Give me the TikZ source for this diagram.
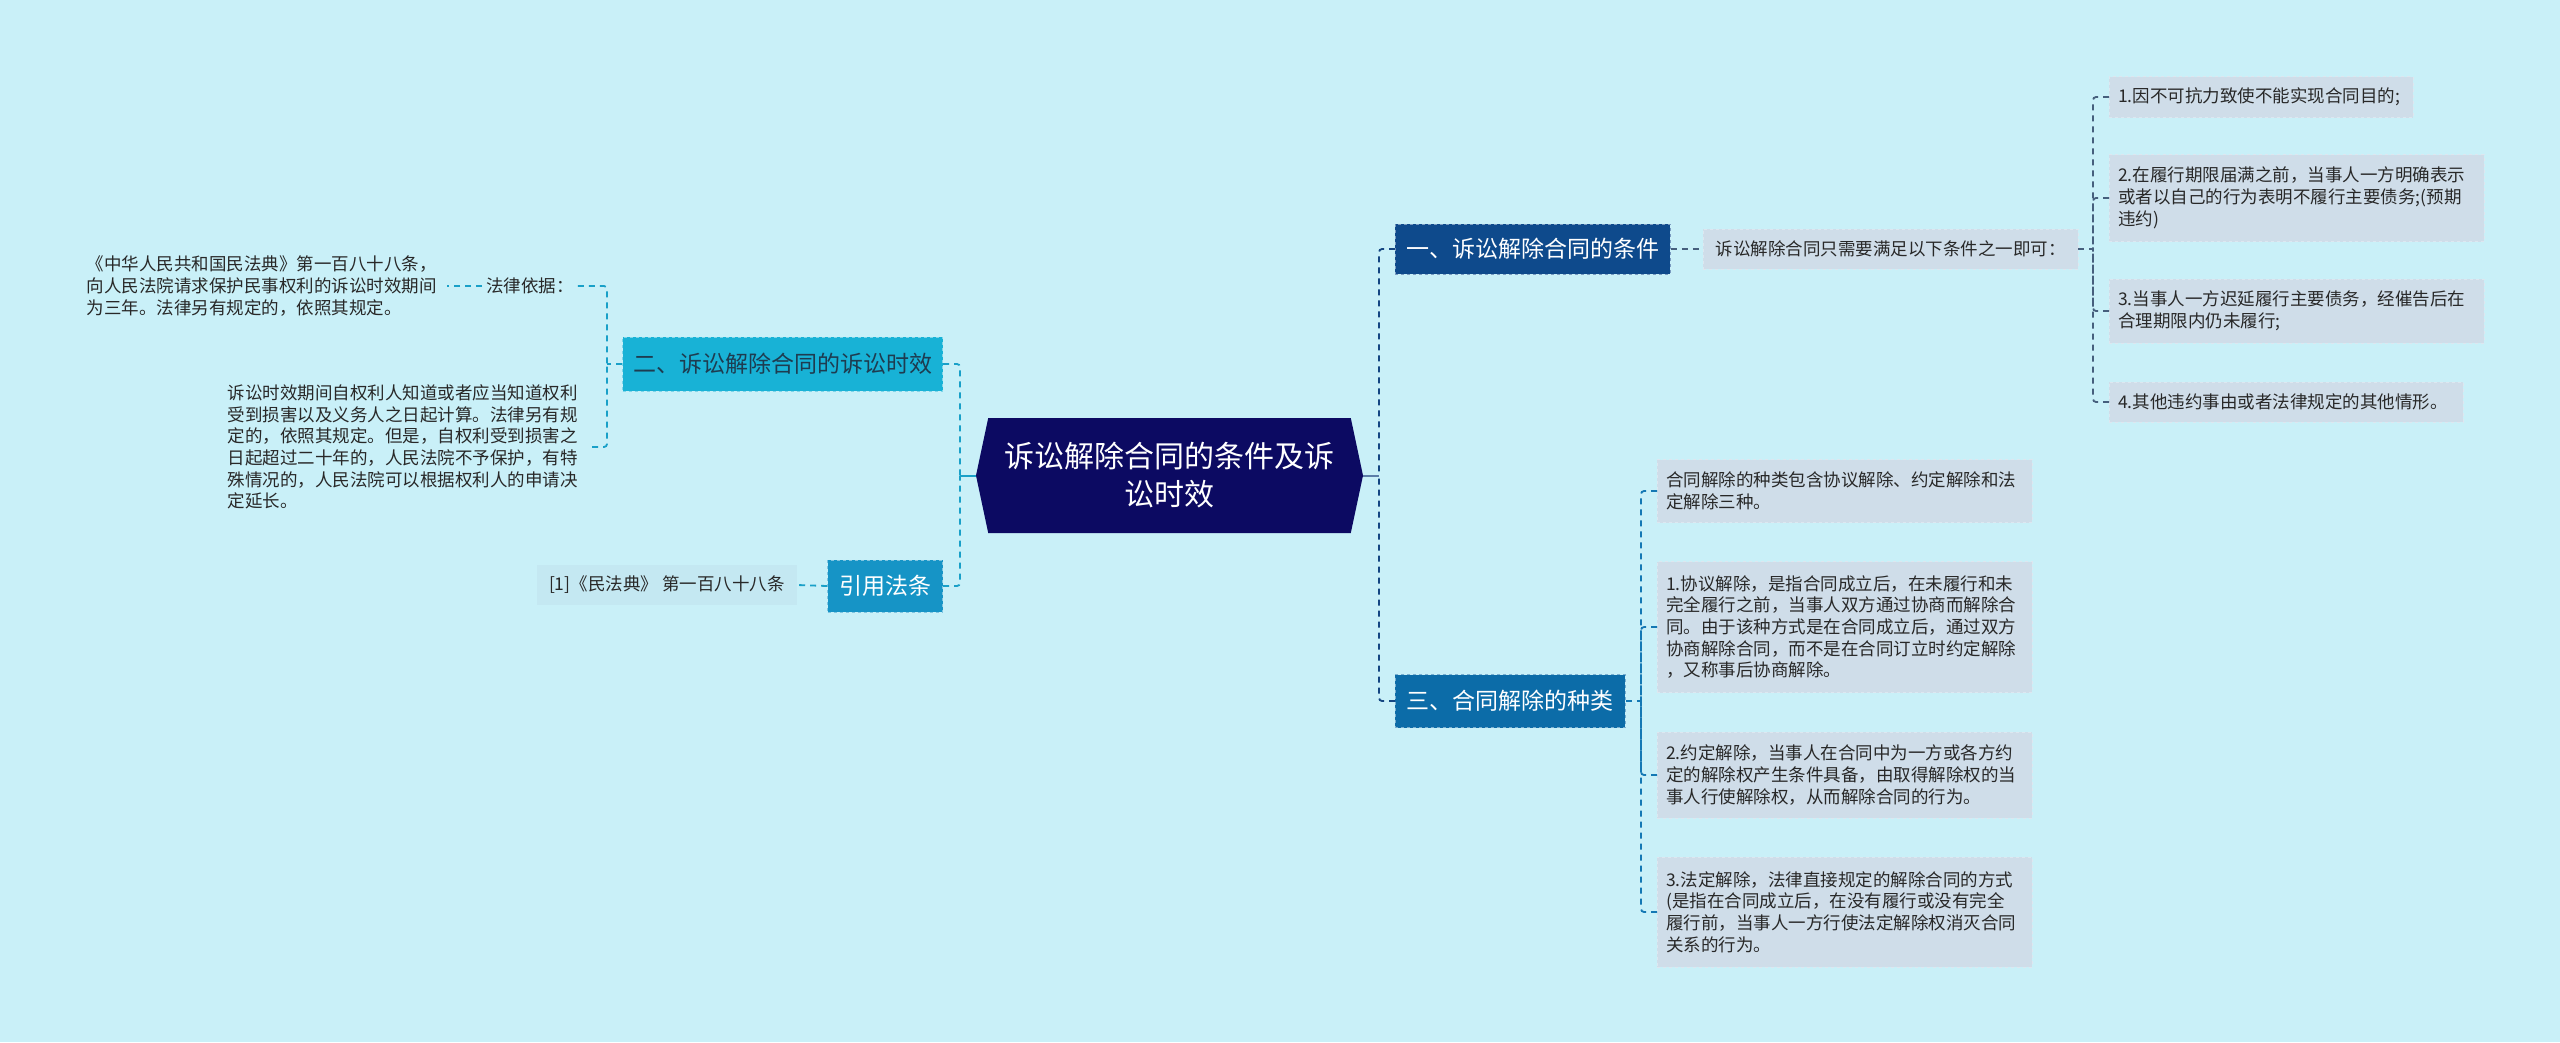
\documentclass[tikz,border=0pt]{standalone}
\usepackage{fontspec}
\setmainfont{Noto Sans CJK SC}
\usepackage{tikz}
\usetikzlibrary{positioning,shapes.symbols}
\definecolor{bgcol}{RGB}{201,240,248}
\definecolor{rootcol}{RGB}{12,10,98}
\definecolor{onecol}{RGB}{14,74,140}
\definecolor{threecol}{RGB}{12,108,168}
\definecolor{twocol}{RGB}{24,178,214}
\definecolor{fourcol}{RGB}{22,148,198}
\definecolor{leafcol}{RGB}{207,221,233}
\definecolor{refcol}{RGB}{196,232,242}
\definecolor{txtcol}{RGB}{40,40,40}
\definecolor{twotxt}{RGB}{30,60,80}
\definecolor{trunkR}{RGB}{20,70,130}
\definecolor{lineone}{RGB}{70,95,125}
\definecolor{linethree}{RGB}{20,120,180}
\definecolor{lineleft}{RGB}{25,160,200}
\newcommand\leaffont{\fontsize{17.5}{21.7}\selectfont}
\newcommand\branchfont{\fontsize{23}{28}\selectfont}
\newcommand\rootfont{\fontsize{30}{38}\selectfont}
\tikzstyle{rootbox}=[%
      shape=signal, signal to=west and east, signal pointer angle=156,
      fill=rootcol, text=white, align=center, font=\rootfont,
      minimum width=387pt, minimum height=115pt, inner sep=0pt
]
\tikzstyle{branch}=[%
      rectangle, dashed, text=white, font=\branchfont, align=center,
      inner sep=4pt, line width=0.8pt
]
\tikzstyle{leaf}=[%
      rectangle, fill=leafcol, draw=leafcol!70!white, dashed, text=txtcol,
      font=\leaffont, align=left, inner xsep=9pt, inner ysep=8pt
]
\tikzstyle{plain}=[%
      rectangle, draw=none, text=txtcol, font=\leaffont, align=left, inner sep=4pt
]
\begin{document}
\begin{tikzpicture}[x=1pt, y=-1pt,
    lk/.style={dash pattern=on 6pt off 5pt, line width=1.8pt, rounded corners=3pt},
    stub/.style={line width=2pt},
]
    \fill[bgcol] (0,0) rectangle (2560,1042);
    \useasboundingbox (0,0) rectangle (2560,1042);

    \node[rootbox] (root) at (1169.5,475.5) {诉讼解除合同的条件及诉\\讼时效};

    % right side
    \node[branch, fill=onecol, draw=onecol!55!white, minimum width=275pt, minimum height=50pt,
          anchor=west] (b1) at (1395,249) {一、诉讼解除合同的条件};
    \node[branch, fill=threecol, draw=threecol!55!white, minimum width=230pt, minimum height=53pt,
          anchor=west] (b3) at (1395,701) {三、合同解除的种类};
    \node[leaf, anchor=west, minimum width=375pt, minimum height=40pt] (s1) at (1703,249)
          {诉讼解除合同只需要满足以下条件之一即可：};

    \node[leaf, anchor=west, text width=286pt, minimum height=41pt] (l1) at (2109,97)
          {1.因不可抗力致使不能实现合同目的;};
    \node[leaf, anchor=west, text width=357pt, minimum height=87pt] (l2) at (2109,198)
          {2.在履行期限届满之前，当事人一方明确表示\\或者以自己的行为表明不履行主要债务;(预期\\违约)};
    \node[leaf, anchor=west, text width=357pt, minimum height=64pt] (l3) at (2109,311)
          {3.当事人一方迟延履行主要债务，经催告后在\\合理期限内仍未履行;};
    \node[leaf, anchor=west, text width=336pt, minimum height=40pt] (l4) at (2109,402)
          {4.其他违约事由或者法律规定的其他情形。};

    \node[leaf, anchor=west, text width=357pt, minimum height=63pt] (r1) at (1657,491)
          {合同解除的种类包含协议解除、约定解除和法\\定解除三种。};
    \node[leaf, anchor=west, text width=357pt, minimum height=131pt] (r2) at (1657,627)
          {1.协议解除，是指合同成立后，在未履行和未\\完全履行之前，当事人双方通过协商而解除合\\同。由于该种方式是在合同成立后，通过双方\\协商解除合同，而不是在合同订立时约定解除\\，又称事后协商解除。};
    \node[leaf, anchor=west, text width=357pt, minimum height=86pt] (r3) at (1657,775)
          {2.约定解除，当事人在合同中为一方或各方约\\定的解除权产生条件具备，由取得解除权的当\\事人行使解除权，从而解除合同的行为。};
    \node[leaf, anchor=west, text width=357pt, minimum height=110pt] (r4) at (1657,912)
          {3.法定解除，法律直接规定的解除合同的方式\\(是指在合同成立后，在没有履行或没有完全\\履行前，当事人一方行使法定解除权消灭合同\\关系的行为。};

    % left side
    \node[branch, fill=twocol, draw=twocol!55!white, text=twotxt, minimum width=320pt,
          minimum height=54pt, anchor=east] (b2) at (943,364) {二、诉讼解除合同的诉讼时效};
    \node[branch, fill=fourcol, draw=fourcol!55!white, minimum width=115pt, minimum height=52pt,
          anchor=east] (b4) at (943,586) {引用法条};
    \node[plain] (law) at (530,286) {法律依据：};
    \node[plain, anchor=east, text width=356pt] (lt1) at (447,286)
          {《中华人民共和国民法典》第一百八十八条，\\向人民法院请求保护民事权利的诉讼时效期间\\为三年。法律另有规定的，依照其规定。};
    \node[plain, anchor=east, text width=360pt] (lt2) at (592,447)
          {诉讼时效期间自权利人知道或者应当知道权利\\受到损害以及义务人之日起计算。法律另有规\\定的，依照其规定。但是，自权利受到损害之\\日起超过二十年的，人民法院不予保护，有特\\殊情况的，人民法院可以根据权利人的申请决\\定延长。};
    \node[leaf, fill=refcol, draw=none, anchor=east, minimum width=260pt, minimum height=40pt] (ref)
          at (797,585) {[1]《民法典》 第一百八十八条};

    \coordinate (cr) at (1379,475.5);
    \coordinate (cl) at (960,475.5);
    \coordinate (p1) at (2093,249);
    \coordinate (p3) at (1641,701);
    \coordinate (p2) at (607,364);

    \draw[stub, trunkR!70!white] (root.east) -- (cr);
    \draw[lk, trunkR] (b1.west) -| (cr);
    \draw[lk, trunkR] (b3.west) -| (cr);
    \draw[lk, lineone] (b1.east) -- (s1.west);
    \draw[lk, lineone] (s1.east) -- (p1);
    \foreach \n in {l1,l2,l3,l4}
      \draw[lk, lineone] (\n.west) -| (p1);
    \draw[lk, linethree] (b3.east) -- (p3);
    \foreach \n in {r1,r2,r3,r4}
      \draw[lk, linethree] (\n.west) -| (p3);

    \draw[stub, lineleft] (root.west) -- (cl);
    \draw[lk, lineleft] (b2.east) -| (cl);
    \draw[lk, lineleft] (b4.east) -| (cl);
    \draw[lk, lineleft] (b2.west) -- (p2);
    \draw[lk, lineleft] (law.east) -| (p2);
    \draw[lk, lineleft] (lt2.east) -| (p2);
    \draw[lk, lineleft] (law.west) -- (lt1.east);
    \draw[lk, lineleft] (b4.west) -- (ref.east);
\end{tikzpicture}
\end{document}
